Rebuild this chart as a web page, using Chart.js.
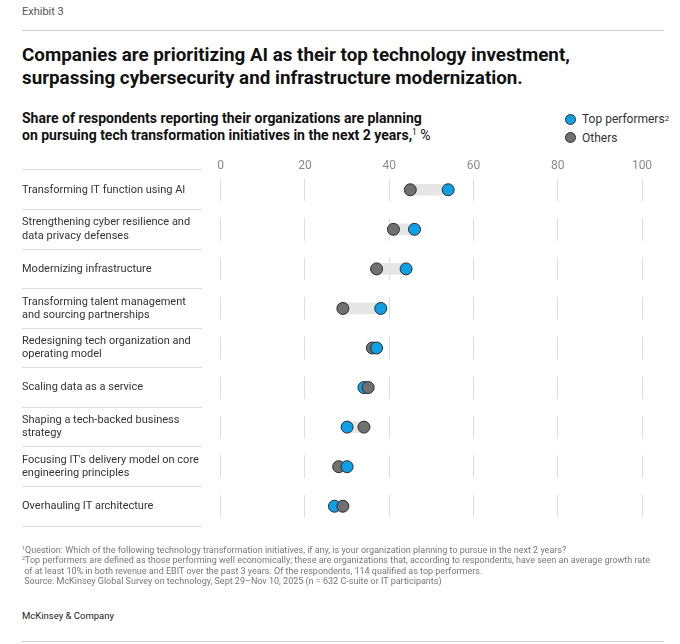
<!DOCTYPE html>
<html>
<head>
<meta charset="utf-8">
<script src="https://cdn.jsdelivr.net/npm/chart.js@4.4.1/dist/chart.umd.min.js"></script>
<style>
  body { margin: 0; background: #fff; font-family: Roboto, "Liberation Sans", sans-serif; }
  #page { position: relative; width: 680px; height: 644px; overflow: hidden; }
  .abs { position: absolute; }
  #exhibit { left: 22px; top: 5px; font-size: 11px; color: #555; }
  .rule { left: 22px; width: 642px; height: 1px; background: #cfcfcf; }
  #title { left: 22px; top: 44px; font-size: 18.8px; line-height: 22.5px; font-weight: 700; color: #111; }
  #subtitle { left: 22px; top: 110px; font-size: 14px; line-height: 16.5px; font-weight: 700; color: #111; }
  #subtitle sup, .foot sup { font-size: 60%; font-weight: 400; vertical-align: 0.6em; line-height: 0; }
  #legend sup { font-size: 65%; vertical-align: 0.55em; line-height: 0; }
  #legend { left: 565px; top: 110px; font-size: 12px; color: #333; }
  .item { height: 18.5px; display: flex; align-items: center; }
  .dot { width: 11px; height: 11px; border-radius: 50%; box-sizing: border-box; border: 1px solid #333; margin-right: 6px; }
  #chartBox { left: 0; top: 130px; width: 680px; height: 430px; }
  .foot { left: 22px; top: 545px; font-size: 9px; line-height: 10.4px; color: #777; white-space: nowrap; }
  #brand { left: 22px; top: 610px; font-size: 9.5px; color: #222; }
</style>
</head>
<body>
<div id="page">
  <div id="exhibit" class="abs">Exhibit 3</div>
  <div class="abs rule" style="top:30px"></div>
  <div id="title" class="abs">Companies are prioritizing AI as their top technology investment,<br>surpassing cybersecurity and infrastructure modernization.</div>
  <div id="subtitle" class="abs">Share of respondents reporting their organizations are planning<br>on pursuing tech transformation initiatives in the next 2 years,<sup>1</sup> <span style="font-weight:400">%</span></div>
  <div id="legend" class="abs">
    <div class="item"><span class="dot" style="background:#0ea0e6"></span>Top performers<sup>2</sup></div>
    <div class="item"><span class="dot" style="background:#707070"></span>Others</div>
  </div>
  <div id="chartBox" class="abs"><canvas id="chart"></canvas></div>
  <div class="abs foot"><sup>1</sup>Question: Which of the following technology transformation initiatives, if any, is your organization planning to pursue in the next 2 years?<br><sup>2</sup>Top performers are defined as those performing well economically; these are organizations that, according to respondents, have seen an average growth rate<br>&nbsp;of at least 10% in both revenue and EBIT over the past 3 years. Of the respondents, 114 qualified as top performers.<br>&nbsp;Source: McKinsey Global Survey on technology, Sept 29–Nov 10, 2025 (n = 632 C-suite or IT participants)</div>
  <div id="brand" class="abs">McKinsey &amp; Company</div>
  <div class="abs rule" style="top:641px"></div>
</div>

<script>
// initiatives, top to bottom
const initiatives = [
    ['Transforming IT function using AI'],
    ['Strengthening cyber resilience and', 'data privacy defenses'],
    ['Modernizing infrastructure'],
    ['Transforming talent management', 'and sourcing partnerships'],
    ['Redesigning tech organization and', 'operating model'],
    ['Scaling data as a service'],
    ['Shaping a tech-backed business', 'strategy'],
    ["Focusing IT's delivery model on core", 'engineering principles'],
    ['Overhauling IT architecture']
];
// % of respondents
const topPerformers = [54, 46, 44, 38, 37, 34, 30, 30, 27];
const others = [45, 41, 37, 29, 36, 35, 34, 28, 29];
const xTicks = [0, 20, 40, 60, 80, 100];

const BLUE = '#0ea0e6';
const GRAY = '#707070';

// the dot further right is drawn on top
const leftVals = [], rightVals = [], leftColors = [], rightColors = [], ranges = [];
for (let i = 0; i < initiatives.length; i++) {
    const topIsRight = topPerformers[i] >= others[i];
    leftVals.push(topIsRight ? others[i] : topPerformers[i]);
    rightVals.push(topIsRight ? topPerformers[i] : others[i]);
    leftColors.push(topIsRight ? GRAY : BLUE);
    rightColors.push(topIsRight ? BLUE : GRAY);
    ranges.push([Math.min(topPerformers[i], others[i]), Math.max(topPerformers[i], others[i])]);
}

const rowH = (526 - 170) / initiatives.length;
const seg = 22.5;

const pointStyle = (vals, colors, order) => ({
    type: 'line',
    indexAxis: 'y',
    data: vals,
    showLine: false,
    order: order,
    pointRadius: 6,
    pointHoverRadius: 6,
    pointBackgroundColor: colors,
    pointBorderColor: '#2b2b2b',
    pointBorderWidth: 1
});

new Chart(document.getElementById('chart'), {
    type: 'bar',
    data: {
        labels: initiatives,
        datasets: [
            {
                data: ranges,
                backgroundColor: '#e6e6e6',
                barThickness: 11,
                borderSkipped: false,
                order: 3
            },
            pointStyle(leftVals, leftColors, 2),
            pointStyle(rightVals, rightColors, 1)
        ]
    },
    options: {
        indexAxis: 'y',
        responsive: true,
        maintainAspectRatio: false,
        animation: false,
        layout: { padding: { left: 22, right: 38, top: 20, bottom: 34 } },
        plugins: { legend: { display: false }, tooltip: { enabled: false } },
        scales: {
            x: {
                position: 'top',
                min: -4.438,
                max: 100,
                afterBuildTicks: (scale) => { scale.ticks = xTicks.map(v => ({ value: v })); },
                afterFit: (scale) => { scale.height = 20; },
                ticks: {
                    color: '#8a8a8a',
                    font: { family: 'Roboto', size: 12, lineHeight: 0.75 },
                    padding: 0
                },
                grid: { color: '#dedede', lineWidth: 1, drawTicks: false },
                border: { display: false, dash: [seg, rowH - seg], dashOffset: seg + (rowH - seg) / 2 }
            },
            y: {
                afterFit: (scale) => { scale.width = 180; },
                ticks: {
                    crossAlign: 'far',
                    autoSkip: false,
                    padding: 0,
                    color: '#333',
                    font: { family: 'Roboto', size: 11, lineHeight: 1.2 }
                },
                grid: { drawOnChartArea: false, drawTicks: true, tickLength: 180, tickColor: '#dddddd', offset: true },
                border: { display: false }
            }
        }
    }
});
</script>
</body>
</html>
